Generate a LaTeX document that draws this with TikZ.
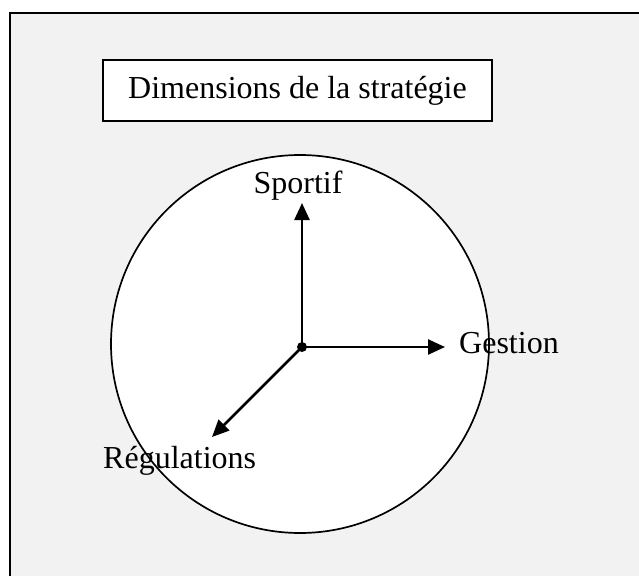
\documentclass[tikz,border=0pt]{standalone}
\usepackage{fontspec}
\setmainfont{Liberation Serif}
\usetikzlibrary{arrows.meta}
\definecolor{bg}{HTML}{F2F2F2}
\begin{document}
\begin{tikzpicture}[x=1pt,y=-1pt,
  lbl/.style={font=\fontsize{32}{37}\selectfont, inner sep=0pt},
  axis/.style={line width=2.5pt,-{Triangle[length=17pt,width=15pt]}}]
\useasboundingbox (0,0) rectangle (639,575);
\draw[line width=1.8pt, fill=bg] (10,13) rectangle (660,600);
\node[draw, line width=1.8pt, fill=white, minimum width=389pt, minimum height=61pt, lbl] (title) at (297.5,90.5) {Dimensions de la stratégie};
\node[circle, draw, fill=white, minimum size=378pt, line width=1.7pt] (c) at (300,344) {};
\node[circle, fill, inner sep=0pt, minimum size=10pt] (o) at (302,347) {};
\coordinate (ts) at (302,203);
\coordinate (tg) at (445,347);
\coordinate (tr) at (212,437);
\draw[axis] (o.center) -- (ts);
\draw[axis] (o.center) -- (tg);
\draw[axis] (o.center) -- (tr);
\node[lbl, anchor=base] (sportif) at (298,193) {Sportif};
\node[lbl, anchor=base west] (gestion) at (459,353) {Gestion};
\node[lbl, anchor=base west] (regul) at (103,468) {Régulations};
\end{tikzpicture}
\end{document}
